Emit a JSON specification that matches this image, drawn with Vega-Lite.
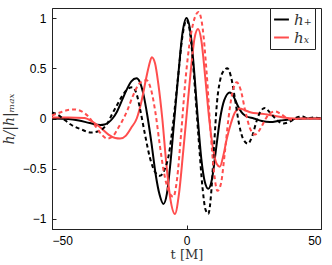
{
  "$schema": "https://vega.github.io/schema/vega-lite/v6.json",
  "autosize": {"type": "none"},
  "width": 269,
  "height": 221,
  "padding": {"left": 52, "top": 8, "right": 11, "bottom": 36},
  "background": "white",
  "config": {
    "view": {"stroke": "#222", "strokeWidth": 1},
    "axis": {
      "domainColor": "#222",
      "tickColor": "#222",
      "tickSize": -4,
      "grid": false,
      "labelFont": "Liberation Sans",
      "labelFontSize": 12,
      "labelColor": "#000",
      "labelPadding": 10,
      "titleFont": "DejaVu Serif",
      "titleFontWeight": "normal",
      "titleColor": "#333"
    }
  },
  "layer": [
    {
      "data": {"values": [
        {"t": -50, "h": 0}, {"t": -44, "h": -0.005}, {"t": -40, "h": -0.02}, {"t": -36, "h": -0.045},
        {"t": -32, "h": -0.065}, {"t": -30.5, "h": -0.06}, {"t": -29, "h": -0.04}, {"t": -27.5, "h": 0},
        {"t": -25.8, "h": 0.07}, {"t": -24, "h": 0.18}, {"t": -22, "h": 0.3}, {"t": -20.5, "h": 0.37},
        {"t": -18.6, "h": 0.4}, {"t": -17.3, "h": 0.36}, {"t": -16, "h": 0.24}, {"t": -14.5, "h": 0.02},
        {"t": -13, "h": -0.25}, {"t": -11.5, "h": -0.55}, {"t": -10, "h": -0.76}, {"t": -8.6, "h": -0.85},
        {"t": -7.3, "h": -0.75}, {"t": -6, "h": -0.45}, {"t": -4.5, "h": 0}, {"t": -3, "h": 0.45},
        {"t": -1.5, "h": 0.85}, {"t": 0, "h": 1.0}, {"t": 1.5, "h": 0.85}, {"t": 3, "h": 0.42},
        {"t": 4.2, "h": 0}, {"t": 5.5, "h": -0.4}, {"t": 6.8, "h": -0.63}, {"t": 8.1, "h": -0.7},
        {"t": 9.5, "h": -0.6}, {"t": 11, "h": -0.3}, {"t": 12.5, "h": 0}, {"t": 14, "h": 0.18},
        {"t": 16.1, "h": 0.26}, {"t": 17.5, "h": 0.22}, {"t": 19, "h": 0.13}, {"t": 20.5, "h": 0.06},
        {"t": 22, "h": 0.025}, {"t": 25, "h": 0}, {"t": 28, "h": -0.025}, {"t": 31, "h": -0.035},
        {"t": 35, "h": -0.02}, {"t": 40, "h": -0.005}, {"t": 44, "h": 0}, {"t": 50, "h": 0}
      ]},
      "mark": {"type": "line", "interpolate": "monotone", "strokeWidth": 2},
      "encoding": {
        "x": {"field": "t", "type": "quantitative", "scale": {"domain": [-50, 50], "nice": false},
              "axis": {"values": [-50, 0, 50], "format": "d", "title": "t  [M]", "titleFontSize": 13, "titlePadding": 2}},
        "y": {"field": "h", "type": "quantitative", "scale": {"domain": [-1.1, 1.1], "nice": false},
              "axis": {"values": [-1, -0.5, 0, 0.5, 1], "format": "~g", "title": "h/|h|ₘₐₓ", "titleFontSize": 14, "titleFontStyle": "italic", "titlePadding": 6}},
        "color": {"datum": "h₊", "type": "nominal",
                  "scale": {"domain": ["h₊", "hₓ"], "range": ["#000000", "#ff4d4d"]},
                  "legend": {"title": null, "orient": "none", "legendX": 218, "legendY": 0,
                             "symbolType": "stroke", "symbolStrokeWidth": 2, "symbolSize": 220,
                             "labelFont": "DejaVu Serif", "labelFontStyle": "italic", "labelFontSize": 15,
                             "labelColor": "#333", "strokeColor": "#222", "fillColor": "white",
                             "padding": 3, "rowPadding": 1, "labelOffset": 4, "cornerRadius": 0}}
      }
    },
    {
      "data": {"values": [
        {"t": -50, "h": 0.01}, {"t": -44, "h": 0.01}, {"t": -38, "h": 0.005}, {"t": -35, "h": -0.03},
        {"t": -32, "h": -0.09}, {"t": -29, "h": -0.16}, {"t": -26.5, "h": -0.195}, {"t": -24.7, "h": -0.2},
        {"t": -22.5, "h": -0.17}, {"t": -20.5, "h": -0.09}, {"t": -18.5, "h": 0}, {"t": -16.5, "h": 0.2},
        {"t": -15, "h": 0.4}, {"t": -14, "h": 0.52}, {"t": -12.9, "h": 0.61}, {"t": -11.7, "h": 0.55},
        {"t": -10.5, "h": 0.35}, {"t": -9, "h": 0}, {"t": -7.5, "h": -0.45}, {"t": -6, "h": -0.8},
        {"t": -4.3, "h": -0.95}, {"t": -2.8, "h": -0.75}, {"t": -1.3, "h": -0.35}, {"t": 0, "h": 0.02},
        {"t": 1.5, "h": 0.45}, {"t": 3, "h": 0.8}, {"t": 4.3, "h": 0.89}, {"t": 5.5, "h": 0.78},
        {"t": 7, "h": 0.4}, {"t": 8.5, "h": -0.02}, {"t": 10, "h": -0.32}, {"t": 11.2, "h": -0.45},
        {"t": 12.4, "h": -0.48}, {"t": 13.6, "h": -0.38}, {"t": 15, "h": -0.2}, {"t": 16.5, "h": -0.05},
        {"t": 18, "h": 0.06}, {"t": 19.8, "h": 0.1}, {"t": 21.5, "h": 0.085}, {"t": 24, "h": 0.06},
        {"t": 27, "h": 0.05}, {"t": 30, "h": 0.04}, {"t": 33, "h": 0.025}, {"t": 36, "h": 0.01},
        {"t": 40, "h": 0}, {"t": 50, "h": 0}
      ]},
      "mark": {"type": "line", "interpolate": "monotone", "strokeWidth": 2},
      "encoding": {
        "x": {"field": "t", "type": "quantitative"},
        "y": {"field": "h", "type": "quantitative"},
        "color": {"datum": "hₓ", "type": "nominal"}
      }
    },
    {
      "data": {"values": [
        {"t": -50, "h": 0.06}, {"t": -48, "h": 0.04}, {"t": -46, "h": 0}, {"t": -43, "h": -0.06},
        {"t": -39, "h": -0.11}, {"t": -35.5, "h": -0.14}, {"t": -33, "h": -0.13}, {"t": -31, "h": -0.1},
        {"t": -29, "h": -0.03}, {"t": -27.7, "h": 0.04}, {"t": -25.5, "h": 0.15}, {"t": -23.5, "h": 0.24},
        {"t": -21.5, "h": 0.3}, {"t": -20, "h": 0.31}, {"t": -18.5, "h": 0.24}, {"t": -17.3, "h": 0.1},
        {"t": -15.5, "h": -0.15}, {"t": -13.5, "h": -0.4}, {"t": -11.5, "h": -0.54}, {"t": -9.9, "h": -0.57},
        {"t": -8, "h": -0.5}, {"t": -6.5, "h": -0.35}, {"t": -5, "h": -0.05}, {"t": -3, "h": 0.45},
        {"t": -1.5, "h": 0.82}, {"t": 0, "h": 0.98}, {"t": 1.5, "h": 0.82}, {"t": 3, "h": 0.35},
        {"t": 4.5, "h": -0.2}, {"t": 6, "h": -0.7}, {"t": 7, "h": -0.9}, {"t": 8.1, "h": -0.95},
        {"t": 9.3, "h": -0.7}, {"t": 10.3, "h": -0.25}, {"t": 11.3, "h": 0.15}, {"t": 12.5, "h": 0.38},
        {"t": 14, "h": 0.48}, {"t": 15.2, "h": 0.5}, {"t": 16.5, "h": 0.42}, {"t": 18, "h": 0.2},
        {"t": 19.5, "h": -0.05}, {"t": 21, "h": -0.2}, {"t": 22.8, "h": -0.25}, {"t": 24.5, "h": -0.17},
        {"t": 26, "h": -0.03}, {"t": 27.5, "h": 0.07}, {"t": 29.2, "h": 0.105}, {"t": 31, "h": 0.06},
        {"t": 33, "h": 0}, {"t": 36, "h": -0.05}, {"t": 38.5, "h": -0.03}, {"t": 41, "h": 0.01},
        {"t": 43, "h": 0.02}, {"t": 45, "h": 0}, {"t": 47, "h": 0.01}, {"t": 50, "h": 0}
      ]},
      "mark": {"type": "line", "interpolate": "monotone", "strokeWidth": 2, "strokeDash": [4, 3]},
      "encoding": {
        "x": {"field": "t", "type": "quantitative"},
        "y": {"field": "h", "type": "quantitative"},
        "color": {"datum": "h₊", "type": "nominal"}
      }
    },
    {
      "data": {"values": [
        {"t": -50, "h": 0.03}, {"t": -47, "h": 0.06}, {"t": -44, "h": 0.085}, {"t": -41.8, "h": 0.09},
        {"t": -39, "h": 0.07}, {"t": -36.5, "h": 0.02}, {"t": -34, "h": -0.07}, {"t": -31.5, "h": -0.16},
        {"t": -29.6, "h": -0.2}, {"t": -27.5, "h": -0.18}, {"t": -25.5, "h": -0.1}, {"t": -24, "h": -0.03},
        {"t": -22, "h": 0.08}, {"t": -20, "h": 0.22}, {"t": -18, "h": 0.33}, {"t": -16.5, "h": 0.37},
        {"t": -14.8, "h": 0.38}, {"t": -13.3, "h": 0.3}, {"t": -11.5, "h": 0.05}, {"t": -10, "h": -0.25},
        {"t": -8.5, "h": -0.52}, {"t": -6.5, "h": -0.73}, {"t": -4.9, "h": -0.78}, {"t": -3.5, "h": -0.6},
        {"t": -2, "h": -0.15}, {"t": -0.5, "h": 0.35}, {"t": 1, "h": 0.72}, {"t": 2.5, "h": 0.95},
        {"t": 4.5, "h": 1.06}, {"t": 6, "h": 0.9}, {"t": 7.5, "h": 0.45}, {"t": 9, "h": -0.15},
        {"t": 10.3, "h": -0.55}, {"t": 11.5, "h": -0.72}, {"t": 12.8, "h": -0.65}, {"t": 14.2, "h": -0.35},
        {"t": 15.6, "h": 0}, {"t": 17, "h": 0.25}, {"t": 18.7, "h": 0.36}, {"t": 20.2, "h": 0.28},
        {"t": 21.8, "h": 0.08}, {"t": 23.5, "h": -0.09}, {"t": 25.5, "h": -0.16}, {"t": 27.5, "h": -0.1},
        {"t": 29.5, "h": 0}, {"t": 31, "h": 0.05}, {"t": 33, "h": 0.07}, {"t": 35, "h": 0.045},
        {"t": 37, "h": 0.01}, {"t": 39, "h": -0.01}, {"t": 42, "h": 0}, {"t": 50, "h": 0}
      ]},
      "mark": {"type": "line", "interpolate": "monotone", "strokeWidth": 2, "strokeDash": [4, 3]},
      "encoding": {
        "x": {"field": "t", "type": "quantitative"},
        "y": {"field": "h", "type": "quantitative"},
        "color": {"datum": "hₓ", "type": "nominal"}
      }
    }
  ]
}
